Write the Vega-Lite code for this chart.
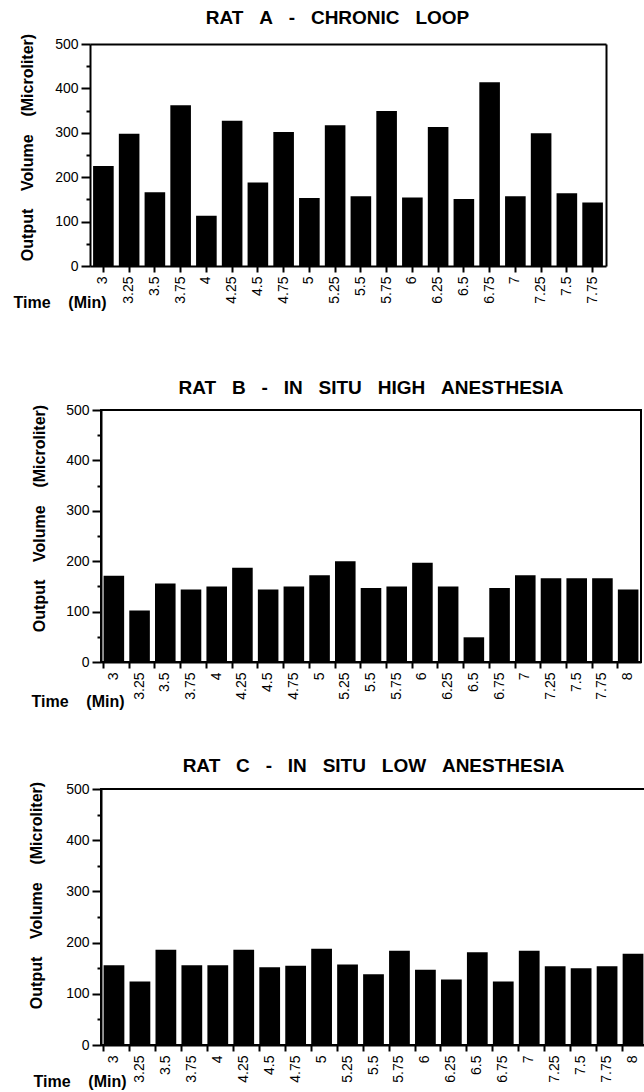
{
  "$schema": "https://vega.github.io/schema/vega-lite/v6.json",
  "padding": {"left": 13, "top": 9, "right": 0, "bottom": 0},
  "background": "white",
  "config": {
    "font": "Liberation Sans",
    "view": {"stroke": "black", "strokeWidth": 2},
    "axis": {
      "domainColor": "black", "domainWidth": 2, "tickColor": "black", "tickWidth": 2,
      "labelColor": "black", "titleColor": "black", "grid": false,
      "labelFont": "Liberation Sans", "titleFont": "Liberation Sans",
      "labelFontSize": 14, "titleFontSize": 16, "titleFontWeight": "bold"
    },
    "title": {"font": "Liberation Sans", "fontSize": 19, "fontWeight": "bold", "color": "black", "offset": 5, "frame": "group"},
    "bar": {"color": "black"}
  },
  "datasets": {
    "A": [
      {"t": "3", "v": 225}, {"t": "3.25", "v": 298}, {"t": "3.5", "v": 166}, {"t": "3.75", "v": 362},
      {"t": "4", "v": 113}, {"t": "4.25", "v": 327}, {"t": "4.5", "v": 188}, {"t": "4.75", "v": 302},
      {"t": "5", "v": 153}, {"t": "5.25", "v": 317}, {"t": "5.5", "v": 157}, {"t": "5.75", "v": 349},
      {"t": "6", "v": 154}, {"t": "6.25", "v": 313}, {"t": "6.5", "v": 151}, {"t": "6.75", "v": 414},
      {"t": "7", "v": 157}, {"t": "7.25", "v": 299}, {"t": "7.5", "v": 164}, {"t": "7.75", "v": 143}
    ],
    "B": [
      {"t": "3", "v": 171}, {"t": "3.25", "v": 102}, {"t": "3.5", "v": 156}, {"t": "3.75", "v": 144},
      {"t": "4", "v": 150}, {"t": "4.25", "v": 187}, {"t": "4.5", "v": 144}, {"t": "4.75", "v": 150},
      {"t": "5", "v": 172}, {"t": "5.25", "v": 200}, {"t": "5.5", "v": 147}, {"t": "5.75", "v": 150},
      {"t": "6", "v": 197}, {"t": "6.25", "v": 150}, {"t": "6.5", "v": 49}, {"t": "6.75", "v": 147},
      {"t": "7", "v": 172}, {"t": "7.25", "v": 166}, {"t": "7.5", "v": 166}, {"t": "7.75", "v": 166},
      {"t": "8", "v": 144}
    ],
    "C": [
      {"t": "3", "v": 156}, {"t": "3.25", "v": 124}, {"t": "3.5", "v": 186}, {"t": "3.75", "v": 156},
      {"t": "4", "v": 156}, {"t": "4.25", "v": 186}, {"t": "4.5", "v": 152}, {"t": "4.75", "v": 155},
      {"t": "5", "v": 188}, {"t": "5.25", "v": 157}, {"t": "5.5", "v": 138}, {"t": "5.75", "v": 184},
      {"t": "6", "v": 147}, {"t": "6.25", "v": 128}, {"t": "6.5", "v": 181}, {"t": "6.75", "v": 124},
      {"t": "7", "v": 184}, {"t": "7.25", "v": 154}, {"t": "7.5", "v": 150}, {"t": "7.75", "v": 154},
      {"t": "8", "v": 178}
    ]
  },
  "spacing": 68,
  "vconcat": [
    {
      "title": {"text": "RAT\u00a0\u00a0\u00a0A\u00a0\u00a0\u00a0-\u00a0\u00a0\u00a0CHRONIC\u00a0\u00a0\u00a0LOOP", "dx": -16},
      "data": {"name": "A"},
      "width": 505,
      "height": 222,
      "view": {"stroke": null},
      "layer": [
        {
          "mark": {"type": "bar"},
          "encoding": {
            "x": {"field": "t", "type": "ordinal", "sort": null,
              "scale": {"range": [-11, 505], "paddingInner": 0.2, "paddingOuter": 0.12},
              "axis": {"title": "Time\u00a0\u00a0\u00a0\u00a0(Min)", "titleX": -88, "titleY": 36, "titleAlign": "left", "titleBaseline": "middle", "titleAngle": 0,
                "labelAngle": -90, "labelAlign": "right", "labelBaseline": "middle", "labelPadding": 4, "tickSize": 6}},
            "y": {"field": "v", "type": "quantitative", "scale": {"domain": [0, 500], "nice": false},
              "axis": {"offset": 11, "values": [0, 100, 200, 300, 400, 500], "title": "Output\u00a0\u00a0\u00a0\u00a0Volume\u00a0\u00a0\u00a0\u00a0(Microliter)",
                "titleX": -63, "titleY": 103, "titleAngle": -90, "titleAlign": "center", "titleBaseline": "middle", "tickSize": 9, "labelPadding": 3}}
          }
        },
        {
          "mark": {"type": "bar", "opacity": 0},
          "encoding": {
            "x": {"field": "t", "type": "ordinal", "sort": null,
              "axis": {"orient": "top", "labels": false, "ticks": false, "domain": true, "title": null}},
            "y": {"field": "v", "type": "quantitative",
              "axis": {"orient": "right", "labels": false, "ticks": false, "domain": true, "title": null}}
          }
        },
        {
          "mark": {"type": "bar", "opacity": 0},
          "encoding": {
            "x": {"field": "t", "type": "ordinal", "sort": null, "axis": null},
            "y": {"field": "v", "type": "quantitative",
              "axis": {"orient": "left", "offset": 11, "values": [50, 150, 250, 350, 450], "labels": false, "domain": false, "title": null, "tickSize": 4}}
          }
        }
      ],
      "resolve": {"axis": {"x": "independent", "y": "independent"}}
    },
    {
      "spacing": 46,
      "vconcat": [
        {
          "title": {"text": "RAT\u00a0\u00a0\u00a0B\u00a0\u00a0\u00a0-\u00a0\u00a0\u00a0IN\u00a0\u00a0\u00a0SITU\u00a0\u00a0\u00a0HIGH\u00a0\u00a0\u00a0ANESTHESIA"},
          "data": {"name": "B"},
          "width": 540,
          "height": 252,
          "layer": [
            {
              "mark": {"type": "bar"},
              "encoding": {
                "x": {"field": "t", "type": "ordinal", "sort": null,
                  "scale": {"paddingInner": 0.2, "paddingOuter": 0.1},
                  "axis": {"title": "Time\u00a0\u00a0\u00a0\u00a0(Min)", "titleX": -70, "titleY": 39, "titleAlign": "left", "titleBaseline": "middle", "titleAngle": 0,
                    "labelAngle": -90, "labelAlign": "right", "labelBaseline": "middle", "labelPadding": 4, "tickSize": 6, "tickOpacity": 0}},
                "y": {"field": "v", "type": "quantitative", "scale": {"domain": [0, 500], "nice": false},
                  "axis": {"values": [0, 100, 200, 300, 400, 500], "title": "Output\u00a0\u00a0\u00a0\u00a0Volume\u00a0\u00a0\u00a0\u00a0(Microliter)",
                    "titleX": -62, "titleY": 108, "titleAngle": -90, "titleAlign": "center", "titleBaseline": "middle", "tickSize": 9, "labelPadding": 3}}
              }
            },
            {
              "mark": {"type": "bar", "opacity": 0},
              "encoding": {
                "x": {"field": "t", "type": "ordinal", "sort": null,
                  "axis": {"orient": "bottom", "bandPosition": 0, "labels": false, "domain": false, "title": null, "tickSize": 6}},
                "y": {"field": "v", "type": "quantitative",
                  "axis": {"orient": "left", "values": [50, 150, 250, 350, 450], "labels": false, "domain": false, "title": null, "tickSize": 4}}
              }
            }
          ],
          "resolve": {"axis": {"x": "independent", "y": "independent"}}
        },
        {
          "title": {"text": "RAT\u00a0\u00a0\u00a0C\u00a0\u00a0\u00a0-\u00a0\u00a0\u00a0IN\u00a0\u00a0\u00a0SITU\u00a0\u00a0\u00a0LOW\u00a0\u00a0\u00a0ANESTHESIA"},
          "data": {"name": "C"},
          "width": 545,
          "height": 256,
          "layer": [
            {
              "mark": {"type": "bar"},
              "encoding": {
                "x": {"field": "t", "type": "ordinal", "sort": null,
                  "scale": {"paddingInner": 0.2, "paddingOuter": 0.1},
                  "axis": {"title": "Time\u00a0\u00a0\u00a0\u00a0(Min)", "titleX": -68, "titleY": 36, "titleAlign": "left", "titleBaseline": "middle", "titleAngle": 0,
                    "labelAngle": -90, "labelAlign": "right", "labelBaseline": "middle", "labelPadding": 4, "tickSize": 6, "tickOpacity": 0}},
                "y": {"field": "v", "type": "quantitative", "scale": {"domain": [0, 500], "nice": false},
                  "axis": {"values": [0, 100, 200, 300, 400, 500], "title": "Output\u00a0\u00a0\u00a0\u00a0Volume\u00a0\u00a0\u00a0\u00a0(Microliter)",
                    "titleX": -65, "titleY": 106, "titleAngle": -90, "titleAlign": "center", "titleBaseline": "middle", "tickSize": 9, "labelPadding": 3}}
              }
            },
            {
              "mark": {"type": "bar", "opacity": 0},
              "encoding": {
                "x": {"field": "t", "type": "ordinal", "sort": null,
                  "axis": {"orient": "bottom", "bandPosition": 0, "labels": false, "domain": false, "title": null, "tickSize": 6}},
                "y": {"field": "v", "type": "quantitative",
                  "axis": {"orient": "left", "values": [50, 150, 250, 350, 450], "labels": false, "domain": false, "title": null, "tickSize": 4}}
              }
            }
          ],
          "resolve": {"axis": {"x": "independent", "y": "independent"}}
        }
      ]
    }
  ]
}
